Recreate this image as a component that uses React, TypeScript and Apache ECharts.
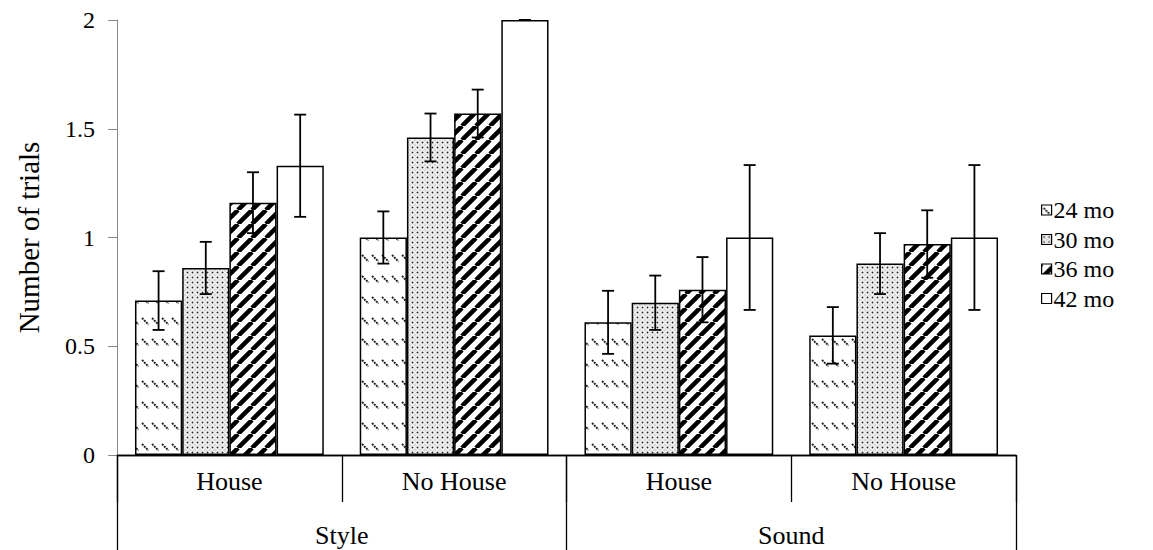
import React, { useEffect, useRef } from "react";
import * as echarts from "echarts";

const categories = ["House", "No House", "House", "No House"];
const groups = ["Style", "Sound"];
const seriesNames = ["24 mo", "30 mo", "36 mo", "42 mo"];
const v24 = [0.71, 1.0, 0.61, 0.55];
const v30 = [0.86, 1.46, 0.7, 0.88];
const v36 = [1.16, 1.57, 0.76, 0.97];
const v42 = [1.33, 2.0, 1.0, 1.0];
const e24 = [0.135, 0.12, 0.145, 0.13];
const e30 = [0.12, 0.11, 0.125, 0.14];
const e36 = [0.14, 0.11, 0.15, 0.155];
const e42 = [0.235, 0, 0.333, 0.333];
const yTicks = [0, 0.5, 1, 1.5, 2];

const FONT = '"Liberation Serif", "Times New Roman", serif';

function makeCanvas(w: number, h: number, draw: (ctx: CanvasRenderingContext2D) => void) {
  const c = document.createElement("canvas");
  c.width = w;
  c.height = h;
  const ctx = c.getContext("2d")!;
  draw(ctx);
  return c;
}

export default function App() {
  const ref = useRef<HTMLDivElement>(null);
  useEffect(() => {
    if (!ref.current) return;
    const chart = echarts.init(ref.current, undefined, { renderer: "svg" });

    const p24 = makeCanvas(10, 21, (ctx) => {
      ctx.fillStyle = "#fff";
      ctx.fillRect(0, 0, 10, 21);
      ctx.strokeStyle = "#222";
      ctx.lineWidth = 1.9;
      ctx.setLineDash([2, 0.9]);
      ctx.beginPath();
      ctx.moveTo(2, 3);
      ctx.lineTo(8.5, 9.5);
      ctx.stroke();
    });
    const p30 = makeCanvas(5, 5, (ctx) => {
      ctx.fillStyle = "#d8d8d8";
      ctx.fillRect(0, 0, 5, 5);
      ctx.fillStyle = "#fff";
      ctx.beginPath();
      ctx.arc(2.5, 2.5, 2.2, 0, Math.PI * 2);
      ctx.fill();
      ctx.fillStyle = "#2a2a2a";
      ctx.beginPath();
      ctx.arc(2.5, 2.5, 1, 0, Math.PI * 2);
      ctx.fill();
    });
    const P = 14;
    const p36 = makeCanvas(P, P, (ctx) => {
      ctx.fillStyle = "#fff";
      ctx.fillRect(0, 0, P, P);
      ctx.strokeStyle = "#000";
      ctx.lineWidth = 4.5;
      ctx.beginPath();
      for (let k = -1; k <= 1; k++) {
        ctx.moveTo(k * P, P);
        ctx.lineTo(k * P + P, 0);
      }
      ctx.stroke();
    });

    const fills: any[] = [
      { image: p24, repeat: "repeat" },
      { image: p30, repeat: "repeat" },
      { image: p36, repeat: "repeat" },
      "#ffffff",
    ];
    const values = [v24, v30, v36, v42];
    const errs = [e24, e30, e36, e42];

    const errData: number[][] = [];
    values.forEach((vals, si) => {
      vals.forEach((v, ci) => {
        errData.push([ci, si, v - errs[si][ci], v + errs[si][ci]]);
      });
    });

    const barSeries = seriesNames.map((name, si) => ({
      name,
      type: "bar",
      data: values[si],
      barGap: "0%",
      barCategoryGap: "16%",
      itemStyle: { color: fills[si], borderColor: "#000", borderWidth: 1.5 },
      emphasis: { disabled: true },
    }));

    const option: any = {
      animation: false,
      grid: { left: 117, right: 137, top: 20, bottom: 95 },
      legend: {
        orient: "vertical",
        left: 1036,
        top: 193,
        icon: "rect",
        itemWidth: 10,
        itemHeight: 10,
        itemGap: 5.5,
        data: seriesNames,
        textStyle: { fontFamily: FONT, fontSize: 24, color: "#000", padding: [0, 0, 0, -3] },
        itemStyle: { borderColor: "#000", borderWidth: 1.2 },
      },
      xAxis: [
        {
          type: "category",
          data: categories,
          position: "bottom",
          axisLine: { show: true, lineStyle: { color: "#000", width: 1.3 } },
          axisTick: { show: true, interval: 0, length: 47, lineStyle: { color: "#000", width: 1.3 } },
          axisLabel: { interval: 0, margin: 13, fontFamily: FONT, fontSize: 26, color: "#000" },
        },
        {
          type: "category",
          data: groups,
          position: "bottom",
          axisLine: { show: true, lineStyle: { color: "#000", width: 1.3 } },
          axisTick: { show: true, interval: 0, length: 95, lineStyle: { color: "#000", width: 1.3 } },
          axisLabel: { interval: 0, margin: 67, fontFamily: FONT, fontSize: 26, color: "#000" },
        },
      ],
      yAxis: {
        type: "value",
        min: yTicks[0],
        max: yTicks[yTicks.length - 1],
        interval: 0.5,
        name: "Number of trials",
        nameLocation: "middle",
        nameGap: 74,
        nameTextStyle: { fontFamily: FONT, fontSize: 29, color: "#000" },
        axisLine: { show: true, lineStyle: { color: "#888", width: 1 } },
        axisTick: { show: true, length: 9, lineStyle: { color: "#888" } },
        splitLine: { show: false },
        axisLabel: { margin: 22, fontFamily: FONT, fontSize: 24, color: "#000" },
      },
      series: [
        ...barSeries,
        {
          type: "custom",
          name: "err",
          xAxisIndex: 0,
          z: 10,
          data: errData,
          encode: { x: 0, y: [2, 3] },
          renderItem: (params: any, api: any) => {
            const cat = api.value(0);
            const si = api.value(1);
            const lo = api.value(2);
            const hi = api.value(3);
            const pLo = api.coord([cat, lo]);
            const pHi = api.coord([cat, hi]);
            const catW = api.size([1, 0])[0];
            const barW = (catW * 0.84) / 4;
            const x = pLo[0] + (si - 1.5) * barW;
            const cap = 6;
            const style = { stroke: "#000", lineWidth: 1.8 };
            return {
              type: "group",
              children: [
                { type: "line", shape: { x1: x, y1: pLo[1], x2: x, y2: pHi[1] }, style },
                { type: "line", shape: { x1: x - cap, y1: pLo[1], x2: x + cap, y2: pLo[1] }, style },
                { type: "line", shape: { x1: x - cap, y1: pHi[1], x2: x + cap, y2: pHi[1] }, style },
              ],
            };
          },
        },
      ],
    };
    chart.setOption(option);
    return () => chart.dispose();
  }, []);
  return (
    <div
      ref={ref}
      style={{ position: "fixed", left: 0, top: 0, width: 1153, height: 550, background: "#fff" }}
    />
  );
}
